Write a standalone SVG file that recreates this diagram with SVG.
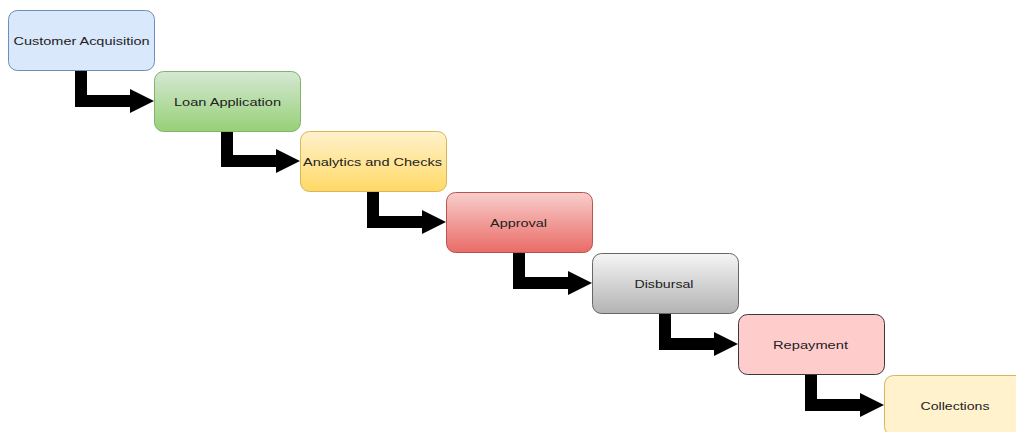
<svg xmlns="http://www.w3.org/2000/svg" width="1016" height="432" viewBox="0 0 1016 432">
<style>
.n rect{stroke-width:1}
.n text{font-family:"Liberation Sans",Arial,sans-serif;font-size:11px;fill:#222;text-anchor:middle}
.c path{fill:none;stroke:#000;stroke-width:12;stroke-linejoin:miter;stroke-linecap:butt}
</style>
<defs>
<linearGradient id="gG" x1="0" y1="0" x2="0" y2="1"><stop offset="0" stop-color="#d5e8d4"/><stop offset="1" stop-color="#97d077"/></linearGradient>
<linearGradient id="gY" x1="0" y1="0" x2="0" y2="1"><stop offset="0" stop-color="#fff2cc"/><stop offset="1" stop-color="#ffd966"/></linearGradient>
<linearGradient id="gR" x1="0" y1="0" x2="0" y2="1"><stop offset="0" stop-color="#f8cecc"/><stop offset="1" stop-color="#ea6b66"/></linearGradient>
<linearGradient id="gK" x1="0" y1="0" x2="0" y2="1"><stop offset="0" stop-color="#f5f5f5"/><stop offset="1" stop-color="#b3b3b3"/></linearGradient>
<marker id="ah" markerUnits="userSpaceOnUse" markerWidth="24" markerHeight="24" refX="0" refY="12" orient="auto" viewBox="0 0 24 24"><path d="M0 0 L24 12 L0 24 Z" fill="#000"/></marker>
</defs>
<g id="connectors" class="c">
<path d="M81 70 V101 H130" marker-end="url(#ah)"/>
<path d="M227 131 V161 H276" marker-end="url(#ah)"/>
<path d="M373 191 V222 H422" marker-end="url(#ah)"/>
<path d="M519 252 V283 H568" marker-end="url(#ah)"/>
<path d="M665 313 V344 H714" marker-end="url(#ah)"/>
<path d="M811 374 V405 H860" marker-end="url(#ah)"/>
</g>
<g id="n1" class="n"><rect x="8.5" y="10.5" width="146" height="60" rx="9" fill="#dae8fc" stroke="#6c8ebf"/><text x="81.5" y="44.5" textLength="136" lengthAdjust="spacingAndGlyphs">Customer Acquisition</text></g>
<g id="n2" class="n"><rect x="154.5" y="71.5" width="146" height="60" rx="9" fill="url(#gG)" stroke="#82b366"/><text x="227.5" y="105.5" textLength="107" lengthAdjust="spacingAndGlyphs">Loan Application</text></g>
<g id="n3" class="n"><rect x="300.5" y="131.5" width="146" height="60" rx="9" fill="url(#gY)" stroke="#d6b656"/><text x="372.5" y="165.5" textLength="139" lengthAdjust="spacingAndGlyphs">Analytics and Checks</text></g>
<g id="n4" class="n"><rect x="446.5" y="192.5" width="146" height="60" rx="9" fill="url(#gR)" stroke="#b85450"/><text x="518.5" y="226.5" textLength="57" lengthAdjust="spacingAndGlyphs">Approval</text></g>
<g id="n5" class="n"><rect x="592.5" y="253.5" width="146" height="60" rx="9" fill="url(#gK)" stroke="#666666"/><text x="664" y="287.5" textLength="59" lengthAdjust="spacingAndGlyphs">Disbursal</text></g>
<g id="n6" class="n"><rect x="738.5" y="314.5" width="146" height="60" rx="9" fill="#ffcccc" stroke="#36393d"/><text x="810.5" y="348.5" textLength="75" lengthAdjust="spacingAndGlyphs">Repayment</text></g>
<g id="n7" class="n"><rect x="884.5" y="375.5" width="146" height="60" rx="9" fill="#fff2cc" stroke="#d6b656"/><text x="955" y="409.5" textLength="69" lengthAdjust="spacingAndGlyphs">Collections</text></g>
</svg>
